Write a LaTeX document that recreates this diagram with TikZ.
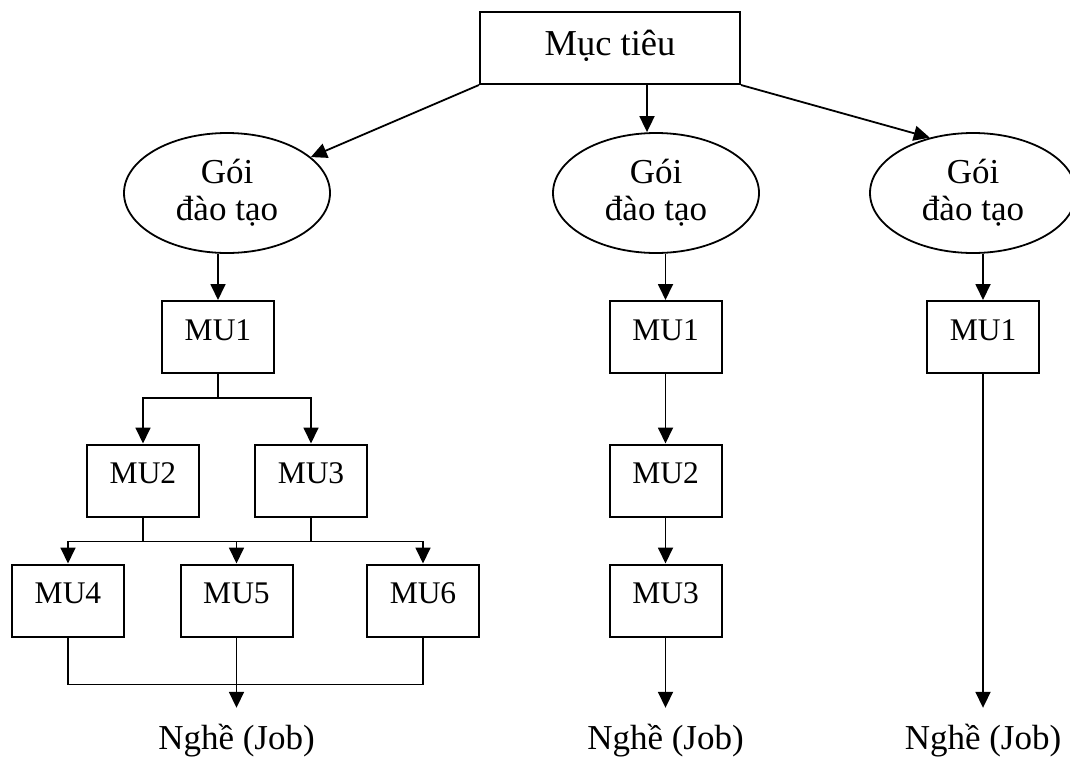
\documentclass[tikz,border=0pt]{standalone}
\usepackage{fontspec}
\setmainfont{Liberation Serif}
\usetikzlibrary{arrows.meta,shapes.geometric}

\tikzset{
  mainfont/.style={font=\fontsize{35}{37}\selectfont},
  goalbox/.style={draw, line width=2pt, rectangle, inner sep=0pt,
    minimum width=260pt, minimum height=72pt,
    font=\fontsize{36.5}{38}\selectfont,
    text height=24pt, text depth=10pt},
  pkg/.style={draw, line width=1.8pt, ellipse, inner sep=0pt,
    minimum width=206pt, minimum height=120pt, align=center, mainfont,
    text height=62pt, text depth=8pt},
  mubox/.style={draw, line width=2pt, rectangle, inner sep=0pt,
    minimum width=112pt, minimum height=72pt,
    font=\fontsize{31.5}{34}\selectfont, text height=14pt, text depth=8pt},
  jobtext/.style={anchor=base, inner sep=0pt, mainfont, text height=41pt},
  link/.style={line width=1.8pt},
  arr/.style={line width=1.8pt, -{Triangle[length=16pt,width=15pt]}},
}

\begin{document}
\begin{tikzpicture}[x=1pt, y=-1pt]
  \clip (0,0) rectangle (1070,758);

  % goal at the top
  \node[goalbox] (goal) at (610,48) {Mục tiêu};

  % three training packages
  \node[pkg] (e1) at (227,193) {Gói\\đào tạo};
  \node[pkg] (e2) at (656,193) {Gói\\đào tạo};
  \node[pkg] (e3) at (973,193) {Gói\\đào tạo};

  \draw[arr] (goal.south west) -- (e1);
  \draw[arr] ([xshift=37pt]goal.south) -- ([xshift=-9pt]e2.north);
  \draw[arr] (goal.south east) -- (e3.128);

  % left package: branching modules
  \node[mubox] (a1) at (218,337) {MU1};
  \node[mubox] (a2) at (143,480.5) {MU2};
  \node[mubox] (a3) at (311,480.5) {MU3};
  \node[mubox] (a4) at (68,600.5) {MU4};
  \node[mubox] (a5) at (236.5,600.5) {MU5};
  \node[mubox] (a6) at (423,600.5) {MU6};
  \node[jobtext] (job1) at (236.5,749) {Nghề (Job)};

  \draw[arr] (e1.south -| a1.north) -- (a1.north);
  \draw[link] (a1.south) -- ++(0,24) coordinate (s1);
  \draw[arr] (s1) -| (a2.north);
  \draw[arr] (s1) -| (a3.north);

  \draw[link] (a2.south) -- ++(0,24) coordinate (s2);
  \draw[link] (a3.south) -- ++(0,24) coordinate (s3);
  \draw[link] (s2) -- (s3);
  \draw[arr] (s2) -| (a4.north);
  \draw[arr] (s3) -| (a6.north);
  \draw[arr] (s2 -| a5.north) -- (a5.north);

  \draw[link] (a5.south) -- ++(0,47) coordinate (j1);
  \draw[link] (a4.south) |- (j1);
  \draw[link] (a6.south) |- (j1);
  \draw[arr] (j1) -- (job1.north);

  % middle package: linear chain
  \node[mubox] (b1) at (665.5,337) {MU1};
  \node[mubox] (b2) at (665.5,480.5) {MU2};
  \node[mubox] (b3) at (665.5,600.5) {MU3};
  \node[jobtext] (job2) at (665.5,749) {Nghề (Job)};

  \draw[arr] (e2.south -| b1.north) -- (b1.north);
  \draw[arr] (b1) -- (b2);
  \draw[arr] (b2) -- (b3);
  \draw[arr] (b3.south) -- (job2.north);

  % right package: single module
  \node[mubox] (c1) at (983,337) {MU1};
  \node[jobtext] (job3) at (983,749) {Nghề (Job)};

  \draw[arr] (e3.south -| c1.north) -- (c1.north);
  \draw[arr] (c1.south) -- (job3.north);
\end{tikzpicture}
\end{document}
